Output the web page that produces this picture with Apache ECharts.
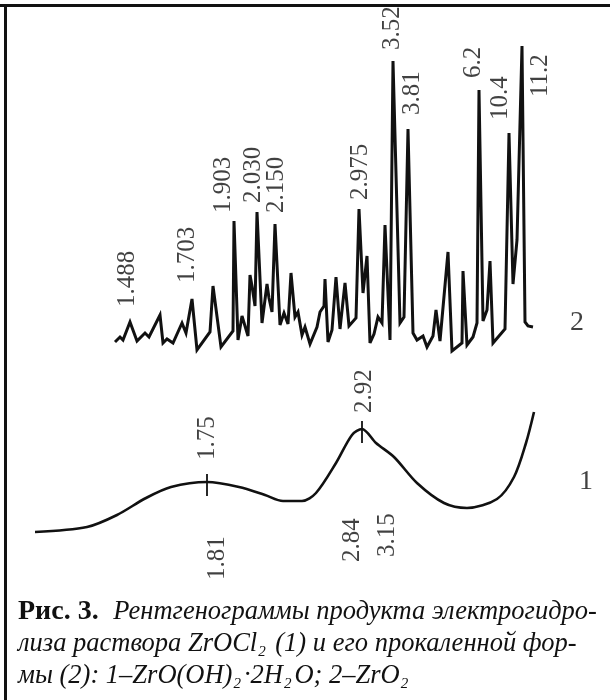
<!DOCTYPE html>
<html>
<head>
<meta charset="utf-8">
<script src="https://cdn.jsdelivr.net/npm/echarts@6/dist/echarts.min.js"></script>
<style>
html,body{margin:0;padding:0;background:#fff;}
#chart{width:610px;height:700px;}
</style>
</head>
<body>
<div id="chart"></div>
<script>
// Pattern 2 (calcined form, ZrO2): scan position vs intensity
const curve2X = [115,120,123,130,137,145,149,160,163,167,173,182,186,192,197,210,213,221,233,
  234,238,242,248,250,252,255,257,262,267,269,272,275,280,284,288,291,295,298,302,305,310,317,320,324,325,328,332,336,340,345,349,356,
  359,363,367,370,374,378,382,385,390,393,400,404,408,413,417,423,427,433,436,440,448,452,462,463,467,473,477,479,483,487,490,493,505,509,513,517,522,525,528,533];
const curve2Y = [358,363,360,378,359,367,363,385,357,361,357,377,367,401,350,368,414,353,369,
  479,360,384,364,425,414,394,488,377,416,402,388,476,375,387,376,427,383,388,365,373,356,373,388,394,421,358,370,423,371,417,374,382,
  491,407,444,357,366,383,377,475,360,639,377,383,571,367,360,364,353,364,390,359,448,349,357,429,355,363,377,610,379,390,439,357,371,567,416,460,654,378,374,373];

// Pattern 1 (electrohydrolysis product, ZrO(OH)2·2H2O)
const curve1X = [35,87,117,146,171,207,239,265,283,302,316,336,352,362,376,394,417,444,467,497,514,526,534];
const curve1Y = [168,173,185,202,213,218,213,205,199,199,207,237,265,271,257,243,217,197,192,201,223,257,288];

// d-spacing labels of pattern 2
const peakLabels2 = ['1.488','1.703','1.903','2.030','2.150','2.975','3.52','3.81','6.2','10.4','11.2'];
const peakLabel2X = [127,187,223,253,276,360,392,412,473,500,540];
const peakLabel2Y = [393,417,487,497,487,500,650,585,622,580,603];

// d-spacing labels of pattern 1
const peakLabels1Above = ['1.75','2.92'];
const peakLabel1AboveX = [207,364];
const peakLabel1AboveY = [240,287];
const peakLabels1Below = ['1.81','2.84','3.15'];
const peakLabel1BelowX = [217,352,387];
const peakLabel1BelowY = [120,138,143];

// marked peaks on pattern 1
const tickMarks1X = [207,362];

// curve numbers
const curveNames = ['2','1'];
const curveNameX = [577,586];
const curveNameY = [377,218];

const FONT = "'Liberation Serif','DejaVu Serif',serif";

function zip(xs, ys){ return xs.map((x,i)=>[x, ys[i]]); }
function interp(xs, ys, x){
  for(let i=0;i<xs.length-1;i++){
    if(x>=xs[i] && x<=xs[i+1]){ const t=(x-xs[i])/(xs[i+1]-xs[i]); return ys[i]+t*(ys[i+1]-ys[i]); }
  }
  return ys[ys.length-1];
}

const labelStyle = {
  show:true, position:'inside', rotate:90, align:'left', verticalAlign:'middle',
  fontFamily:FONT, fontSize:25, color:'#111', formatter:p=>p.data[2]
};
const hiddenPt = { color:'transparent' };

function labelSeries(texts, xs, ys){
  return {
    type:'scatter', symbolSize:1, itemStyle:hiddenPt, silent:true, z:5,
    data:texts.map((t,i)=>[xs[i], ys[i], t]),
    label:labelStyle
  };
}

const chart = echarts.init(document.getElementById('chart'), null, {renderer:'canvas'});
chart.setOption({
  animation:false,
  backgroundColor:'#fff',
  grid:{left:0,right:0,top:0,bottom:0},
  xAxis:{type:'value',min:0,max:610,show:false},
  yAxis:{type:'value',min:0,max:700,show:false},
  series:[
    {type:'line', data:zip(curve2X,curve2Y), showSymbol:false, smooth:false,
     lineStyle:{color:'#111',width:3, join:'miter', miterLimit:4}},
    {type:'line', data:zip(curve1X,curve1Y), showSymbol:false, smooth:0.3,
     lineStyle:{color:'#111',width:2.6},
     markLine:{symbol:'none', silent:true, label:{show:false},
       lineStyle:{color:'#111',width:1.8,type:'solid'},
       data:tickMarks1X.map(x=>{const y=interp(curve1X,curve1Y,x); return [{coord:[x,y+8]},{coord:[x,y-14]}];})}},
    labelSeries(peakLabels2, peakLabel2X, peakLabel2Y),
    labelSeries(peakLabels1Above, peakLabel1AboveX, peakLabel1AboveY),
    labelSeries(peakLabels1Below, peakLabel1BelowX, peakLabel1BelowY),
    {type:'scatter', symbolSize:1, itemStyle:hiddenPt, silent:true,
     data:curveNames.map((t,i)=>[curveNameX[i],curveNameY[i],t]),
     label:{show:true, position:'inside', fontFamily:FONT, fontSize:28, color:'#111', formatter:p=>p.data[2]}}
  ],
  graphic:[
    {type:'line', shape:{x1:0,y1:5.5,x2:610,y2:5.5}, style:{stroke:'#111',lineWidth:3}},
    {type:'line', shape:{x1:5.5,y1:4,x2:5.5,y2:700}, style:{stroke:'#111',lineWidth:3}},
    {type:'text', left:18, top:598, style:{
      text:'{b|Рис. 3.}{i| Рентгенограммы продукта электрогидро-}\n' +
           '{i|лиза раствора ZrOCl}{s|2}{i| (1) и его прокаленной фор-}\n' +
           '{i|мы (2): 1\u2013ZrO(OH)}{s|2}{i|·2H}{s|2}{i|O; 2\u2013ZrO}{s|2}',
      fill:'#111',
      rich:{
        b:{fontFamily:FONT,fontWeight:'bold',fontSize:28,lineHeight:32,fill:'#111',padding:[0,8,0,0]},
        i:{fontFamily:FONT,fontStyle:'italic',fontSize:26.5,lineHeight:32,fill:'#111'},
        s:{fontFamily:FONT,fontStyle:'italic',fontSize:15,lineHeight:10,verticalAlign:'bottom',fill:'#111',padding:[0,3,0,1]}
      }
    }}
  ]
});
</script>
</body>
</html>
